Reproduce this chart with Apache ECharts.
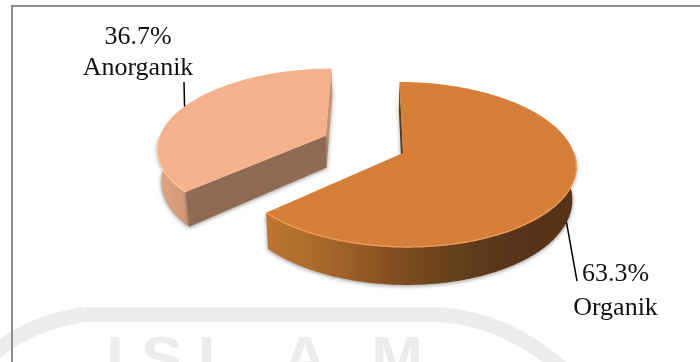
<!DOCTYPE html>
<html>
<head>
<meta charset="utf-8">
<style>html,body{margin:0;padding:0;background:#fff}#c{width:700px;height:362px}</style>
<script src="https://cdn.jsdelivr.net/npm/echarts@6/dist/echarts.min.js"></script>
</head>
<body>
<div id="c"></div>
<script>
// Share of waste by type, in percent
const categories = ['Organik', 'Anorganik'];
const shareValues = [63.3, 36.7];
const watermarkLetters = ['I', 'S', 'L', 'A', 'M'];

const total = shareValues.reduce((a, b) => a + b, 0);

// Perspective view of the tilted disc: k is the foreshortening towards the viewer
const view = { ax: 403, ay: 153, A: 171, B: 80.9, k: 0.139, skew: 4, depth: 32.7, vanishX: 368, converge: 0.981 };

function project(u, v, offset, lowered) {
  const U = u + offset[0], V = v + offset[1];
  const w = 1 - view.k * V;
  let x = view.ax + (view.A * U + view.skew * V) / w;
  let y = view.ay + view.B * V / w;
  if (lowered) {
    y += view.depth / w;
    x = view.vanishX + (x - view.vanishX) * view.converge;
  }
  return [x, y];
}
const rimPoint = (deg, offset, lowered) => {
  const t = deg * Math.PI / 180;
  return project(Math.sin(t), -Math.cos(t), offset, lowered);
};
function rim(from, to, offset, lowered) {
  const pts = [];
  for (let d = from; d < to; d += 1) pts.push(rimPoint(d, offset, lowered));
  pts.push(rimPoint(to, offset, lowered));
  return pts;
}
const hGrad = (x1, x2, stops) => ({
  type: 'linear', global: true, x: x1, y: 0, x2: x2, y2: 0,
  colorStops: stops.map((c, i) => ({ offset: i / (stops.length - 1), color: c }))
});

// Per-slice look: exploded offset on the disc plane, colours and label placement.
// Only the walls turned towards the viewer get a colour.
const sliceStyles = {
  Organik: {
    offset: [0, 0],
    top: '#d67f3b', edge: '#f09b55',
    side: hGrad(266, 575, ['#bd7630', '#a7662a', '#85501f', '#66401c', '#57341a', '#573417']),
    startWall: '#5b3a18', endWall: null,
    lineFromLowered: true, lineEnd: [577, 281],
    labelX: 615.5, labelY: [274, 308]
  },
  Anorganik: {
    offset: [-0.46, -0.22],
    top: '#f4b28c', edge: '#ffc8a4',
    side: hGrad(157, 190, ['#dfa684', '#cf9775']),
    startWall: '#906b53', endWall: '#c89174',
    lineFromLowered: false, lineEnd: [184, 82],
    labelX: 138, labelY: [37, 68]
  }
};

function sliceRange(index) {
  let start = 0;
  for (let i = 0; i < index; i++) start += shareValues[i] / total * 360;
  return [start, start + shareValues[index] / total * 360];
}

function renderSlice(index) {
  const name = categories[index];
  const st = sliceStyles[name];
  const [a0, a1] = sliceRange(index);
  const off = st.offset;
  const apex = project(0, 0, off, false);
  const apexLow = project(0, 0, off, true);
  const topRim = rim(a0, a1, off, false);
  const lowRim = rim(a0, a1, off, true);
  const startTop = topRim[0], startLow = lowRim[0];
  const endTop = topRim[topRim.length - 1], endLow = lowRim[lowRim.length - 1];
  // The curved side only shows on the near half of the disc
  const nearFrom = Math.max(a0, 90), nearTo = Math.min(a1, 270);
  const nearTop = rim(nearFrom, nearTo, off, false);
  const nearLow = rim(nearFrom, nearTo, off, true);
  const shadow = { shadowBlur: 4, shadowColor: 'rgba(60,60,60,0.55)', shadowOffsetX: 0, shadowOffsetY: 1 };
  const poly = (points, style) => ({ type: 'polygon', shape: { points }, style });

  const children = [];
  if (st.endWall) {
    children.push(poly([apex, endTop, endLow, apexLow], Object.assign({ fill: st.endWall }, shadow)));
  }
  children.push(poly(nearTop.concat(nearLow.slice().reverse()), Object.assign({ fill: st.side }, shadow)));
  children.push(poly([apex, startTop, startLow, apexLow], Object.assign({ fill: st.startWall }, shadow)));
  // The top face closes over whatever lies behind it
  children.push(poly([apex].concat(topRim), { fill: st.top }));
  children.push({ type: 'polyline', shape: { points: nearTop }, style: { fill: null, stroke: st.edge, lineWidth: 1.4 } });

  // Leader line starts on the rim at the middle of the slice
  const mid = (a0 + a1) / 2;
  const p = rimPoint(mid, off, st.lineFromLowered);
  children.push({
    type: 'line',
    shape: { x1: p[0], y1: p[1], x2: st.lineEnd[0], y2: st.lineEnd[1] },
    style: { stroke: '#000', lineWidth: 1.5 }
  });
  const font = '26px "Liberation Serif", serif';
  [shareValues[index].toFixed(1) + '%', name].forEach((text, i) => {
    children.push({
      type: 'text',
      style: { text, x: st.labelX, y: st.labelY[i], font, fill: '#111', align: 'center', verticalAlign: 'middle' }
    });
  });
  return { type: 'group', children };
}

// Faint watermark behind the chart, then the frame
const watermarkX = [115, 162, 217, 305, 397];
const arch = { stroke: '#ececec', lineWidth: 15, fill: null };
const graphicElements = [
  { type: 'bezierCurve', z: 0, silent: true, shape: { x1: -8, y1: 355, x2: 85, y2: 314.5, cpx1: 30, cpy1: 322 }, style: arch },
  { type: 'line', z: 0, silent: true, shape: { x1: 85, y1: 314.5, x2: 440, y2: 314.5 }, style: arch },
  { type: 'bezierCurve', z: 0, silent: true, shape: { x1: 440, y1: 314.5, x2: 566, y2: 372, cpx1: 510, cpy1: 320 }, style: arch }
].concat(watermarkLetters.map((ch, i) => ({
  type: 'text', z: 0, silent: true,
  style: { text: ch, x: watermarkX[i], y: 393, font: 'bold 62px "Liberation Sans", sans-serif', fill: '#ececec', align: 'center', verticalAlign: 'bottom' }
}))).concat([
  {
    type: 'polyline', z: 1, silent: true,
    shape: { points: [[12, 362], [12, 6], [700, 6]] },
    style: { fill: null, stroke: '#8e8e8e', lineWidth: 2 }
  }
]);

const chart = echarts.init(document.getElementById('c'), null, { renderer: 'canvas' });
chart.setOption({
  backgroundColor: '#ffffff',
  animation: false,
  graphic: { elements: graphicElements },
  // The rear slice is listed first so the front one paints over it
  series: [1, 0].map(i => ({
    type: 'custom',
    name: categories[i],
    coordinateSystem: 'none',
    silent: true,
    data: [[shareValues[i]]],
    renderItem: () => renderSlice(i)
  }))
});
</script>
</body>
</html>
